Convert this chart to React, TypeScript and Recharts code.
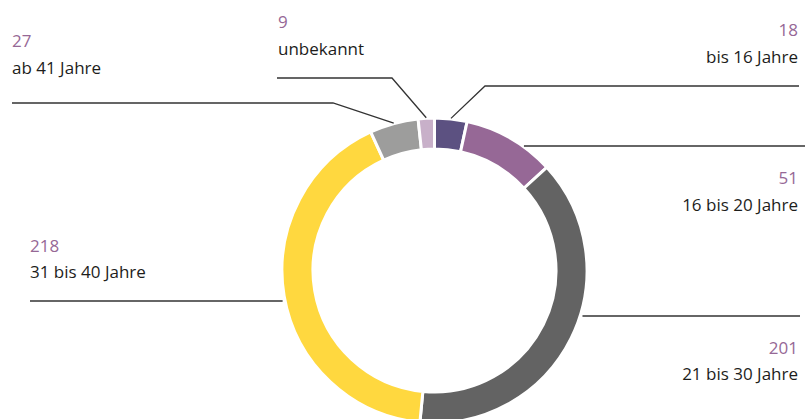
import { Cell, Pie, PieChart } from "recharts";

const AGE_GROUPS = [
  "bis 16 Jahre",
  "16 bis 20 Jahre",
  "21 bis 30 Jahre",
  "31 bis 40 Jahre",
  "ab 41 Jahre",
  "unbekannt",
];
const COUNTS = [18, 51, 201, 218, 27, 9];
const SLICE_COLORS = ["#5C5181", "#966896", "#636363", "#FFD83F", "#9D9D9C", "#C8B0C9"];

// where each label block and leader line sits (layout only, not data)
type LabelLayout = {
  anchor: "start" | "end";
  textX: number;
  numY: number;
  nameY: number;
  lineY: number;
  lineEndX: number;
  elbowX?: number; // elbow lines start at the slice middle, flat ones at the ring edge
};

const LABEL_LAYOUT: LabelLayout[] = [
  { anchor: "end", textX: 798, numY: 36, nameY: 63, lineY: 86, lineEndX: 799, elbowX: 485 },
  { anchor: "end", textX: 798, numY: 184, nameY: 211, lineY: 146, lineEndX: 805 },
  { anchor: "end", textX: 798, numY: 354, nameY: 380, lineY: 316, lineEndX: 800 },
  { anchor: "start", textX: 30, numY: 252, nameY: 278, lineY: 301, lineEndX: 30 },
  { anchor: "start", textX: 12, numY: 47, nameY: 74, lineY: 103, lineEndX: 12, elbowX: 333 },
  { anchor: "start", textX: 278, numY: 28, nameY: 55, lineY: 78, lineEndX: 277, elbowX: 392 },
];

const data = AGE_GROUPS.map((name, i) => ({ name, value: COUNTS[i] }));

const RING_R = 151;
const CX = 434.5;
const CY = 270.5;
const FONT = '"Open Sans", "Noto Sans", sans-serif';
const RAD = Math.PI / 180;

function renderLabel(props: any) {
  const { cx, cy, midAngle, index, value } = props;
  const l = LABEL_LAYOUT[index];
  if (!l) return null;

  let points: string;
  if (l.elbowX !== undefined) {
    const r = RING_R + 2;
    const sx = cx + r * Math.cos(-midAngle * RAD);
    const sy = cy + r * Math.sin(-midAngle * RAD);
    points = `${sx},${sy} ${l.elbowX},${l.lineY} ${l.lineEndX},${l.lineY}`;
  } else {
    const dy = l.lineY - cy;
    const dx = Math.sqrt(Math.max(RING_R * RING_R - dy * dy, 0)) + 4;
    const sx = l.anchor === "end" ? cx + dx : cx - dx;
    points = `${sx},${l.lineY} ${l.lineEndX},${l.lineY}`;
  }

  return (
    <g key={`lbl-${index}`}>
      <polyline points={points} fill="none" stroke="#333333" strokeWidth={1.3} />
      <text
        x={l.textX}
        y={l.numY}
        textAnchor={l.anchor}
        fill="#966896"
        fontFamily={FONT}
        fontSize={17}
        fontWeight={500}
      >
        {value}
      </text>
      <text
        x={l.textX}
        y={l.nameY}
        textAnchor={l.anchor}
        fill="#1D1D1B"
        fontFamily={FONT}
        fontSize={17}
      >
        {AGE_GROUPS[index]}
      </text>
    </g>
  );
}

export default function App() {
  return (
    <div style={{ position: "absolute", left: 0, top: 0, width: 806, height: 419, background: "#fff" }}>
      <PieChart width={806} height={419} margin={{ top: 0, right: 0, bottom: 0, left: 0 }}>
        <Pie
          data={data}
          dataKey="value"
          nameKey="name"
          cx={CX}
          cy={CY}
          innerRadius={121.5}
          outerRadius={RING_R + 1.5}
          startAngle={90}
          endAngle={-270}
          stroke="#FFFFFF"
          strokeWidth={3}
          label={renderLabel}
          labelLine={false}
          isAnimationActive={false}
        >
          {data.map((d, i) => (
            <Cell key={d.name} fill={SLICE_COLORS[i]} />
          ))}
        </Pie>
      </PieChart>
    </div>
  );
}
